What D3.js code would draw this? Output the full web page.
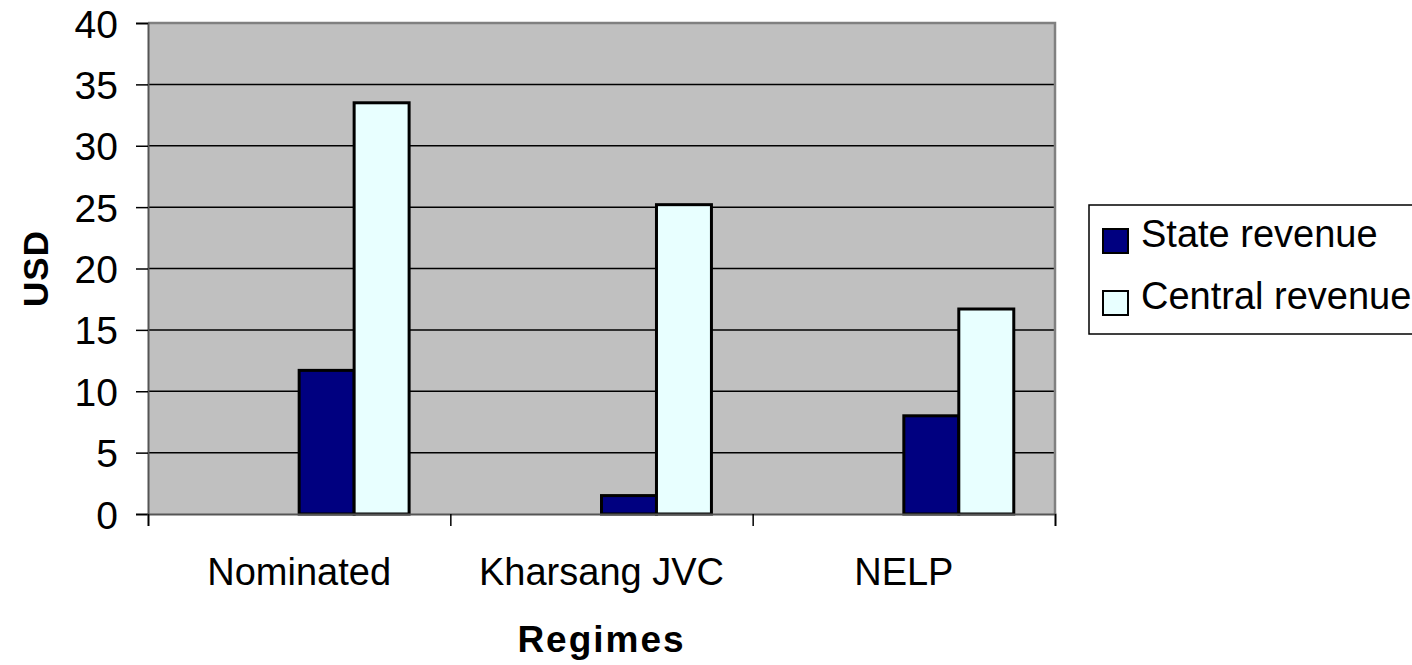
<!DOCTYPE html>
<html>
<head>
<meta charset="utf-8">
<style>
  body { margin: 0; background: #fff; }
  svg text { font-family: "Liberation Sans", Arial, sans-serif; fill: #000; }
</style>
</head>
<body>
<div id="container"></div>
<script src="https://cdn.jsdelivr.net/npm/d3@7"></script>
<script>
// Data
let regimes = ["Nominated", "Kharsang JVC", "NELP"];
let stateRevenue = [11.7, 1.5, 8.0];
let centralRevenue = [33.5, 25.2, 16.7];
let seriesNames = ["State revenue", "Central revenue"];
let yTicks = [0, 5, 10, 15, 20, 25, 30, 35, 40];
// the workbook had two empty series ahead of these, so bars sit in slots 3 and 4
let slots = ["blank1", "blank2", "State revenue", "Central revenue"];
let colors = { "State revenue": "#000080", "Central revenue": "#e8ffff" };

let W = 1412, H = 665;
let plot = { left: 148, right: 1055, top: 23, bottom: 514 };

let svg = d3.select("#container")
  .append("svg")
  .attr("width", W)
  .attr("height", H);

let x0 = d3.scaleBand()
  .domain(regimes)
  .range([plot.left, plot.right])
  .padding(0);

let x1 = d3.scaleBand()
  .domain(slots)
  .range([0, x0.bandwidth()])
  .paddingInner(0)
  .paddingOuter(0.75);

let y = d3.scaleLinear()
  .domain([0, 40])
  .range([plot.bottom, plot.top]);

// Plot background
svg.append("rect")
  .attr("x", plot.left)
  .attr("y", plot.top)
  .attr("width", plot.right - plot.left)
  .attr("height", plot.bottom - plot.top)
  .style("fill", "#c0c0c0");

// Gridlines
svg.selectAll("line.grid")
  .data(yTicks.filter((d) => d > 0 && d < 40))
  .enter()
  .append("line")
  .attr("class", "grid")
  .attr("x1", plot.left)
  .attr("x2", plot.right)
  .attr("y1", (d) => y(d))
  .attr("y2", (d) => y(d))
  .style("stroke", "#000")
  .style("stroke-width", 1.5);

// Plot border (top / right grey)
svg.append("path")
  .attr("d", `M${plot.left},${plot.top}H${plot.right}V${plot.bottom}`)
  .style("fill", "none")
  .style("stroke", "#808080")
  .style("stroke-width", 2.5);

// Bars
let rows = regimes.map((r, i) => ({
  regime: r,
  values: [
    { key: "State revenue", value: stateRevenue[i] },
    { key: "Central revenue", value: centralRevenue[i] }
  ]
}));

let groups = svg.selectAll("g.group")
  .data(rows)
  .enter()
  .append("g")
  .attr("class", "group")
  .attr("transform", (d) => `translate(${x0(d.regime)},0)`);

groups.selectAll("rect")
  .data((d) => d.values)
  .enter()
  .append("rect")
  .attr("x", (d) => x1(d.key))
  .attr("y", (d) => y(d.value))
  .attr("width", x1.bandwidth())
  .attr("height", (d) => y(0) - y(d.value))
  .style("fill", (d) => colors[d.key])
  .style("stroke", "#000")
  .style("stroke-width", 3);

// Y axis
let yAxis = d3.axisLeft(y)
  .tickValues(yTicks)
  .tickSize(12)
  .tickPadding(18);

let yg = svg.append("g")
  .attr("transform", `translate(${plot.left},0)`)
  .call(yAxis);
yg.select(".domain").style("stroke", "#555").style("stroke-width", 2);
yg.selectAll(".tick line").style("stroke", "#000").style("stroke-width", 1.5);
yg.selectAll(".tick text")
  .style("font-size", "39px")
  .style("font-family", "'Liberation Sans', Arial, sans-serif")
  .attr("dy", "0.36em");

// X axis with ticks at category boundaries
let xEdge = d3.scaleLinear().domain([0, regimes.length]).range([plot.left, plot.right]);
let xg = svg.append("g")
  .attr("transform", `translate(0,${plot.bottom})`)
  .call(d3.axisBottom(xEdge).tickValues(d3.range(regimes.length + 1)).tickSize(12).tickFormat(""));
xg.select(".domain").style("stroke", "#555").style("stroke-width", 2);
xg.selectAll(".tick line").style("stroke", "#000").style("stroke-width", 1.5);

svg.selectAll("text.cat")
  .data(regimes)
  .enter()
  .append("text")
  .attr("class", "cat")
  .attr("x", (d) => x0(d) + x0.bandwidth() / 2)
  .attr("y", 585)
  .attr("text-anchor", "middle")
  .style("font-size", "38px")
  .text((d) => d);

// Axis titles
svg.append("text")
  .attr("x", (plot.left + plot.right) / 2)
  .attr("y", 652)
  .attr("text-anchor", "middle")
  .style("font-size", "37px")
  .style("font-weight", "bold")
  .style("letter-spacing", "2px")
  .text("Regimes");

svg.append("text")
  .attr("transform", `translate(48,${(plot.top + plot.bottom) / 2}) rotate(-90)`)
  .attr("text-anchor", "middle")
  .style("font-size", "35px")
  .style("font-weight", "bold")
  .style("letter-spacing", "1px")
  .text("USD");

// Legend
let legend = svg.append("g");
legend.append("rect")
  .attr("x", 1089)
  .attr("y", 205)
  .attr("width", 340)
  .attr("height", 129)
  .style("fill", "#fff")
  .style("stroke", "#000")
  .style("stroke-width", 1.5);

let items = legend.selectAll("g.item")
  .data(seriesNames)
  .enter()
  .append("g")
  .attr("class", "item")
  .attr("transform", (d, i) => `translate(1103,${229 + i * 62})`);

items.append("rect")
  .attr("width", 25)
  .attr("height", 24)
  .style("fill", (d) => colors[d])
  .style("stroke", "#000")
  .style("stroke-width", 2);

items.append("text")
  .attr("x", 38)
  .attr("y", 18)
  .style("font-size", "38px")
  .text((d) => d);
</script>
</body>
</html>
